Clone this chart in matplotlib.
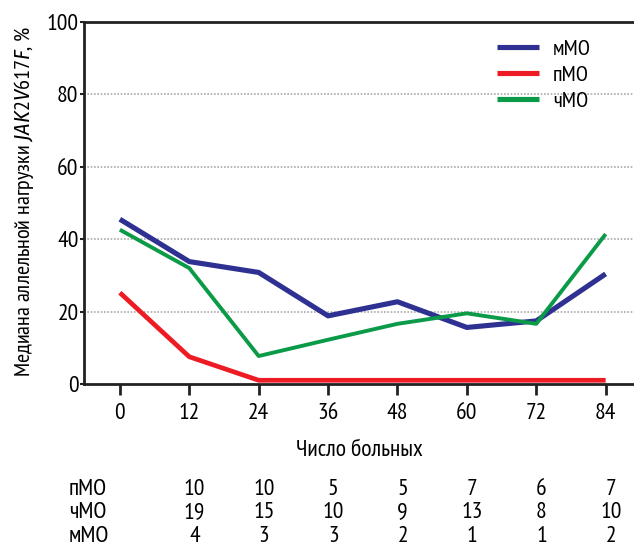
import matplotlib
matplotlib.use('Agg')
import matplotlib.pyplot as plt
from matplotlib import font_manager

# Data
months = [0, 12, 24, 36, 48, 60, 72, 84]
mmo = [45.5, 33.8, 30.8, 18.8, 22.7, 15.6, 17.4, 30.4]
pmo = [25.2, 7.5, 1.0, 1.0, 1.0, 1.0, 1.0, 1.0]
chmo = [42.6, 32.0, 7.7, 12.2, 16.6, 19.5, 16.6, 41.4]

table_rows = ['пМО', 'чМО', 'мМО']
table_cols = [12, 24, 36, 48, 60, 72, 84]
n_pmo = [10, 10, 5, 5, 7, 6, 7]
n_chmo = [19, 15, 10, 9, 13, 8, 10]
n_mmo = [4, 3, 3, 2, 1, 1, 2]

fonts = font_manager.fontManager.ttflist
names = set(f.name for f in fonts)
fam = 'DejaVu Sans'
for cand in ['PT Sans Narrow', 'Fira Sans Condensed', 'Roboto Condensed', 'Open Sans Condensed']:
    if cand in names:
        fam = cand
        break
# italic face for the gene name
it_fam = fam
for cand in ['Fira Sans Condensed', 'Roboto Condensed', 'PT Sans', 'Open Sans']:
    if any(f.name == cand and f.style == 'italic' for f in fonts):
        it_fam = cand
        break
plt.rcParams['font.family'] = [fam, 'DejaVu Sans']
plt.rcParams['mathtext.fontset'] = 'custom'
plt.rcParams['mathtext.it'] = it_fam + ':italic'
plt.rcParams['mathtext.rm'] = fam

fig = plt.figure(figsize=(6.34, 5.5), dpi=100)
ax = fig.add_axes([0.1325, 0.302, 0.8675, 0.658])

ax.plot(months, mmo, color='#2e3192', lw=3.7, label='мМО', solid_capstyle='butt')
ax.plot(months, pmo, color='#ed1c24', lw=3.4, label='пМО', solid_capstyle='butt')
ax.plot(months, chmo, color='#0a9a48', lw=2.8, label='чМО', solid_capstyle='butt')

ax.set_xlim(-6.2, 88.9)
ax.set_ylim(0, 100)
ax.set_xticks(months)
ax.set_yticks([0, 20, 40, 60, 80, 100])
ax.tick_params(axis='x', direction='out', length=8, width=2, labelsize=17, pad=6, color='#222222')
ax.tick_params(axis='y', direction='out', length=3, width=1.5, labelsize=17, pad=1, color='#222222')
for y in [20, 40, 60, 80]:
    ax.axhline(y, color='#aaaaaa', lw=1.2, ls=(0, (1, 1)), zorder=0)

for s in ['left', 'bottom', 'top']:
    ax.spines[s].set_linewidth(2)
    ax.spines[s].set_color('#222222')
ax.spines['right'].set_visible(False)

ax.set_xlabel('Число больных', fontsize=17, labelpad=11)
ax.set_ylabel('Медиана аллельной нагрузки $\\mathit{JAK2V617F}$, %', fontsize=16, labelpad=2)
ax.yaxis.set_label_coords(-0.088, 0.505)

leg = ax.legend(loc='upper left', bbox_to_anchor=(0.715, 1.008), frameon=False, fontsize=16,
                handlelength=1.9, handletextpad=0.6, labelspacing=0.3)
for h in leg.get_lines():
    h.set_linewidth(3.7)

# table of patient counts under the chart
counts = [n_pmo, n_chmo, n_mmo]
row_y = [-0.293, -0.356, -0.423]
for lbl, vals, yy in zip(table_rows, counts, row_y):
    ax.text(-8.8, yy, lbl, transform=ax.get_xaxis_transform(), fontsize=17, ha='left', va='center')
    for xv, v in zip(table_cols, vals):
        ax.text(xv + 0.9, yy, str(v), transform=ax.get_xaxis_transform(), fontsize=17,
                ha='center', va='center')

fig.savefig('out.png', dpi=100)
